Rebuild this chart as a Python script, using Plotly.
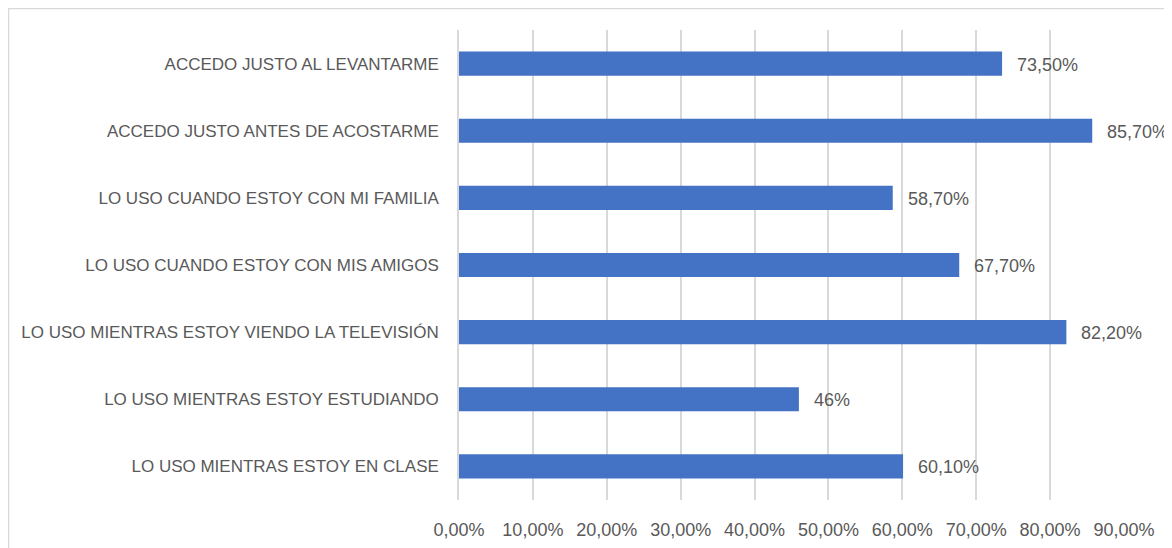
import plotly.graph_objects as go

categories = [
    "ACCEDO JUSTO AL LEVANTARME",
    "ACCEDO JUSTO ANTES DE ACOSTARME",
    "LO USO CUANDO ESTOY CON MI FAMILIA",
    "LO USO CUANDO ESTOY CON MIS AMIGOS",
    "LO USO MIENTRAS ESTOY VIENDO LA TELEVISIÓN",
    "LO USO MIENTRAS ESTOY ESTUDIANDO",
    "LO USO MIENTRAS ESTOY EN CLASE",
]
values = [0.735, 0.857, 0.587, 0.677, 0.822, 0.46, 0.601]
value_labels = ["73,50%", "85,70%", "58,70%", "67,70%", "82,20%", "46%", "60,10%"]
tick_vals = [0, 0.1, 0.2, 0.3, 0.4, 0.5, 0.6, 0.7, 0.8, 0.9]
tick_text = ["0,00%", "10,00%", "20,00%", "30,00%", "40,00%", "50,00%",
             "60,00%", "70,00%", "80,00%", "90,00%"]

FONT = "Liberation Sans"
GREY = "#595959"

W, H = 1164, 540
ML, MR, MT, MB = 451, 48, 22, 48

fig = go.Figure(
    go.Bar(
        y=categories,
        x=values,
        orientation="h",
        marker=dict(color="#4472C4", line=dict(width=0)),
        width=0.36,
        hoverinfo="x+y",
    )
)

annotations = [
    dict(x=v, y=c, xref="x", yref="y", text=t, showarrow=False,
         xanchor="left", yanchor="middle", xshift=13, yshift=-1,
         font=dict(family=FONT, size=18, color=GREY))
    for c, v, t in zip(categories, values, value_labels)
]

pw = W - ML - MR
ph = H - MT - MB

fig.update_layout(
    width=W,
    height=H,
    margin=dict(l=ML, r=MR, t=MT, b=MB),
    paper_bgcolor="white",
    plot_bgcolor="white",
    showlegend=False,
    font=dict(family=FONT, size=14, color=GREY),
    annotations=annotations,
    shapes=[
        dict(type="rect", xref="paper", yref="paper",
             x0=-(ML - 0.5) / pw, x1=1 + (MR + 20) / pw,
             y0=-(MB + 20) / ph, y1=1 + (MT - 0.5) / ph,
             line=dict(color="#D9D9D9", width=1.5), fillcolor="rgba(0,0,0,0)",
             layer="below"),
    ],
)

fig.update_xaxes(
    range=[0, 0.9],
    tickvals=tick_vals,
    ticktext=tick_text,
    showgrid=True,
    gridcolor="#D9D9D9",
    gridwidth=1.5,
    zeroline=False,
    showline=False,
    ticks="",
    automargin=False,
    ticklabelstandoff=17,
    tickfont=dict(family=FONT, size=18, color=GREY),
)

fig.update_yaxes(
    categoryorder="array",
    categoryarray=categories[::-1],
    showgrid=False,
    zeroline=False,
    showline=True,
    linecolor="#D9D9D9",
    linewidth=1.5,
    ticks="",
    automargin=False,
    ticklabelstandoff=15,
    tickfont=dict(family=FONT, size=17, color=GREY),
)

fig.write_html("out.html")
